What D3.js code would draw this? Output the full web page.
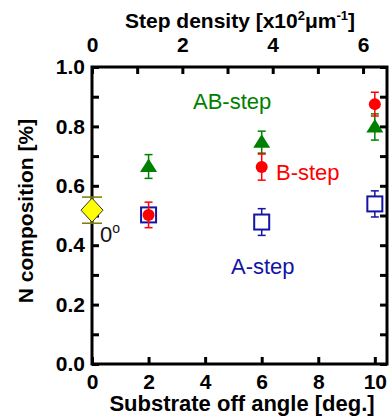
<!DOCTYPE html>
<html><head><meta charset="utf-8">
<script src="https://cdn.jsdelivr.net/npm/d3@7"></script>
<style>
html,body{margin:0;padding:0;background:#fff;}
svg text{font-family:"Liberation Sans",Arial,sans-serif;}
</style></head>
<body><svg id="c" width="389" height="418"></svg>
<script>
// ---- data ----
const offAngles = [2, 6, 10];
const aStep = [0.502, 0.478, 0.539];
const aStepErr = [0.02, 0.045, 0.044];
const bStep = [0.502, 0.663, 0.875];
const bStepErr = [0.043, 0.044, 0.04];
const abStep = [0.665, 0.747, 0.798];
const abStepErr = [0.04, 0.037, 0.044];
const flatAngle = [0];
const flatValue = [0.518];
const flatErr = [0.044];
const xTicks = [0, 2, 4, 6, 8, 10];
const yTicks = [0, 0.1, 0.2, 0.3, 0.4, 0.5, 0.6, 0.7, 0.8, 0.9, 1.0];
const yLabels = ["0.0", "", "0.2", "", "0.4", "", "0.6", "", "0.8", "", "1.0"];
const topTicks = [0, 1, 2, 3, 4, 5, 6];
const topLabels = ["0", "", "2", "", "4", "", "6"];

const svg = d3.select("#c");
const L = 92, R = 387, T = 67, B = 364;
const x = d3.scaleLinear().domain([0, 10.43]).range([L, R]);
const x2 = d3.scaleLinear().domain([0, 6.53]).range([L, R]);
const y = d3.scaleLinear().domain([0, 1]).range([B, T]);

const tickFont = "bold 21px 'Liberation Sans', Arial, sans-serif";

// axes
const gB = svg.append("g").attr("transform", `translate(0,${B})`)
  .call(d3.axisBottom(x).tickValues(xTicks).tickSize(-7).tickPadding(10).tickFormat(d3.format("d")));
const gL = svg.append("g").attr("transform", `translate(${L},0)`)
  .call(d3.axisLeft(y).tickValues(yTicks).tickSize(-7).tickPadding(7).tickFormat((d, i) => yLabels[i]));
const gR = svg.append("g").attr("transform", `translate(${R},0)`)
  .call(d3.axisRight(y).tickValues(yTicks).tickSize(-7).tickFormat(""));
const gT = svg.append("g").attr("transform", `translate(0,${T})`)
  .call(d3.axisTop(x2).tickValues(topTicks).tickSize(-7).tickPadding(15).tickFormat((d, i) => topLabels[i]));

[gB, gL, gR, gT].forEach(g => {
  g.select(".domain").remove();
  g.selectAll(".tick line").attr("stroke", "#000").attr("stroke-width", 3);
  g.selectAll(".tick text").attr("fill", "#000").style("font", tickFont);
});

// frame
svg.append("rect").attr("x", L).attr("y", T).attr("width", R - L).attr("height", B - T)
  .attr("fill", "none").attr("stroke", "#000").attr("stroke-width", 3);

// error bars helper
function errBars(xs, vs, es, color, cap, sw) {
  const g = svg.append("g").attr("stroke", color).attr("stroke-width", sw).attr("fill", "none");
  xs.forEach((d, i) => {
    const cx = x(d), y1 = y(vs[i] + es[i]), y0 = y(vs[i] - es[i]);
    g.append("line").attr("x1", cx).attr("x2", cx).attr("y1", y1).attr("y2", y0);
    g.append("line").attr("x1", cx - cap).attr("x2", cx + cap).attr("y1", y1).attr("y2", y1);
    g.append("line").attr("x1", cx - cap).attr("x2", cx + cap).attr("y1", y0).attr("y2", y0);
  });
}

const blue = "#1414a6", red = "#ff0000", green = "#008000";

// A-step squares
errBars(offAngles, aStep, aStepErr, blue, 4, 1.5);
svg.append("g").selectAll("rect").data(offAngles).join("rect")
  .attr("x", d => x(d) - 7.5).attr("y", (d, i) => y(aStep[i]) - 7.5)
  .attr("width", 15).attr("height", 15)
  .attr("fill", "#fff").attr("stroke", blue).attr("stroke-width", 2);

// AB-step triangles
errBars(offAngles, abStep, abStepErr, green, 4, 1.5);
svg.append("g").selectAll("path").data(offAngles).join("path")
  .attr("d", (d, i) => {
    const cx = x(d), cy = y(abStep[i]);
    return `M${cx},${cy - 8}L${cx + 8.5},${cy + 5.5}L${cx - 8.5},${cy + 5.5}Z`;
  })
  .attr("fill", green);

// B-step circles
errBars(offAngles, bStep, bStepErr, red, 4, 1.5);
svg.append("g").selectAll("circle").data(offAngles).join("circle")
  .attr("cx", d => x(d)).attr("cy", (d, i) => y(bStep[i])).attr("r", 6)
  .attr("fill", red);

// flat (0 deg) diamond
errBars(flatAngle, flatValue, flatErr, "#7a7a00", 10, 1.5);
svg.append("g").selectAll("path").data(flatAngle).join("path")
  .attr("d", (d, i) => {
    const cx = x(d), cy = y(flatValue[i]);
    return `M${cx},${cy - 12}L${cx + 11},${cy}L${cx},${cy + 12}L${cx - 11},${cy}Z`;
  })
  .attr("fill", "#ffff00").attr("stroke", "#333").attr("stroke-width", 1);

// series labels
svg.append("text").attr("x", 193).attr("y", 109).attr("fill", green)
  .style("font-size", "22px").text("AB-step");
svg.append("text").attr("x", 276).attr("y", 180).attr("fill", red)
  .style("font-size", "22px").text("B-step");
svg.append("text").attr("x", 231).attr("y", 274).attr("fill", blue)
  .style("font-size", "22px").text("A-step");
const zt = svg.append("text").attr("x", 100).attr("y", 242).attr("fill", "#111")
  .style("font-size", "22px");
zt.append("tspan").text("0");
zt.append("tspan").attr("dy", -9).style("font-size", "14px").text("o");

// axis titles
svg.append("text").attr("x", 242).attr("y", 411).attr("text-anchor", "middle")
  .style("font", "bold 22px 'Liberation Sans', Arial, sans-serif").text("Substrate off angle [deg.]");
const tt = svg.append("text").attr("x", 240).attr("y", 28).attr("text-anchor", "middle")
  .style("font", "bold 21px 'Liberation Sans', Arial, sans-serif");
tt.append("tspan").text("Step density [x10");
tt.append("tspan").attr("dy", -8).style("font-size", "13px").text("2");
tt.append("tspan").attr("dy", 8).text("\u03bcm");
tt.append("tspan").attr("dy", -8).style("font-size", "13px").text("-1");
tt.append("tspan").attr("dy", 8).text("]");
svg.append("text").attr("transform", "translate(33,211) rotate(-90)").attr("text-anchor", "middle")
  .style("font", "bold 21px 'Liberation Sans', Arial, sans-serif").text("N composition [%]");
</script></body></html>
